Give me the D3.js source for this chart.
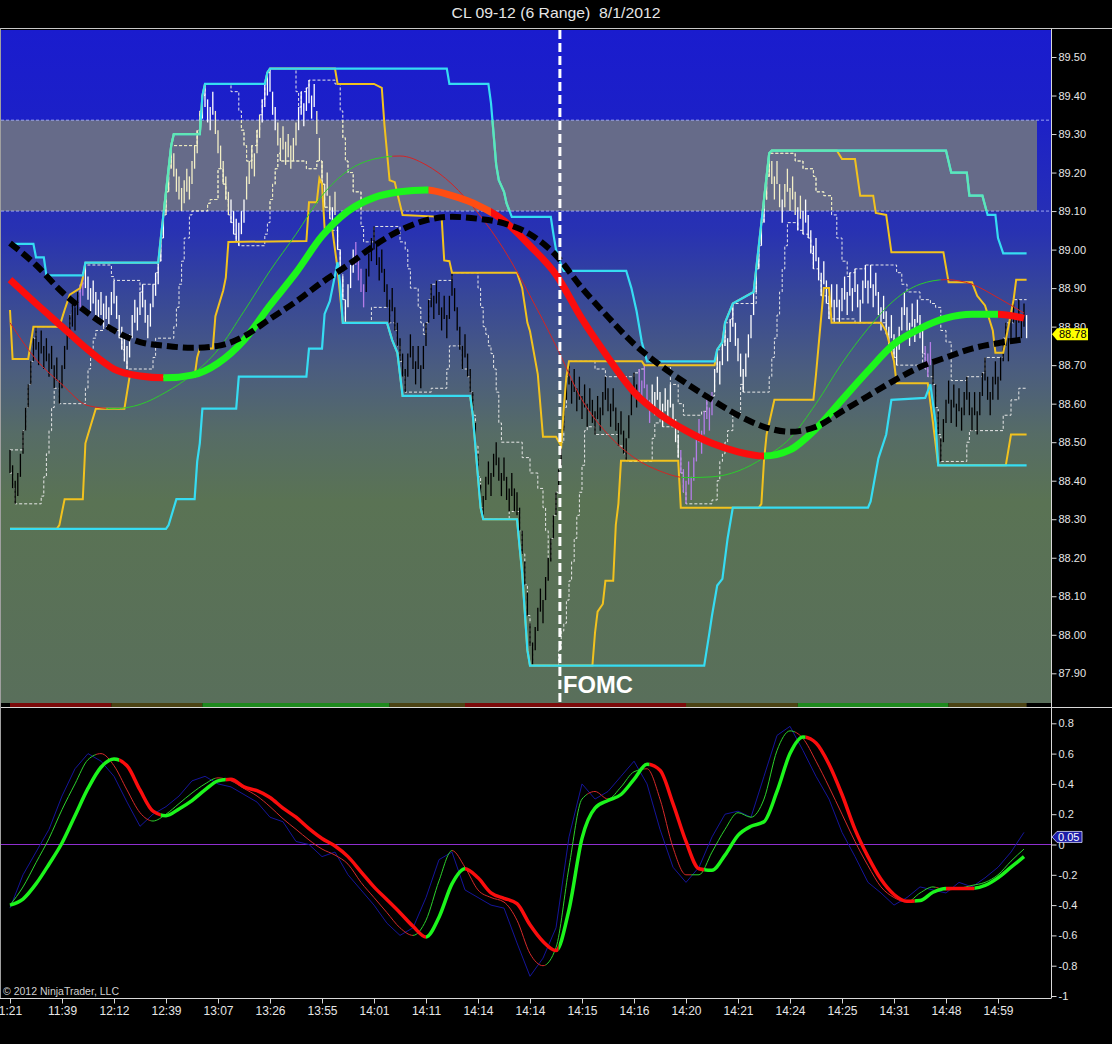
<!DOCTYPE html>
<html><head><meta charset="utf-8">
<script src="https://cdn.jsdelivr.net/npm/d3@7"></script>
<style>html,body{margin:0;padding:0;background:#000;overflow:hidden}</style>
</head><body>
<svg id="c" width="1112" height="1044"></svg>
<script>
// ---------------- DATA ----------------
const title = "CL 09-12 (6 Range)\u00a0 8/1/2012";
const timeLabels = ['1:21','11:39','12:12','12:39','13:07','13:26','13:55','14:01','14:11','14:14','14:14','14:15','14:16','14:20','14:21','14:24','14:25','14:31','14:48','14:59'];
const labelIdx = [0,20,40,60,80,100,120,140,160,180,200,220,240,260,280,300,320,340,360,380];
const priceTicks = [87.9,88.0,88.1,88.2,88.3,88.4,88.5,88.6,88.7,88.8,88.9,89.0,89.1,89.2,89.3,89.4,89.5];
const oscTicks = [-1,-0.8,-0.6,-0.4,-0.2,0,0.2,0.4,0.6,0.8];
const barRange = 0.06;           // 6-tick range bars
const lastPrice = 88.78;
const lastOsc = 0.05;
const bandLow = 89.10, bandHigh = 89.336;
const eventIdx = 211.5, eventLabel = 'FOMC';

// bar mid prices (one per range bar)
const barMid = [
88.45,88.41,88.37,88.39,88.44,88.50,88.56,88.62,88.68,88.74,
88.77,88.73,88.76,88.72,88.74,88.70,88.72,88.67,88.69,88.63,
88.67,88.72,88.77,88.80,88.83,88.82,88.86,88.88,88.91,88.93,
88.90,88.87,88.89,88.86,88.84,88.86,88.83,88.85,88.82,88.86,
88.89,88.85,88.80,88.77,88.74,88.72,88.75,88.80,88.84,88.82,
88.86,88.88,88.84,88.80,88.83,88.88,88.91,88.94,89.00,89.06,
89.12,89.18,89.24,89.22,89.18,89.16,89.13,89.15,89.18,89.16,
89.20,89.24,89.28,89.33,89.37,89.40,89.36,89.34,89.38,89.33,
89.28,89.24,89.20,89.16,89.12,89.10,89.07,89.05,89.04,89.07,
89.10,89.16,89.20,89.24,89.22,89.28,89.32,89.36,89.40,89.43,
89.44,89.38,89.34,89.30,89.26,89.29,89.25,89.27,89.24,89.26,
89.30,89.34,89.38,89.35,89.39,89.41,89.37,89.40,89.33,89.26,
89.20,89.14,89.17,89.11,89.08,89.12,89.03,88.97,88.90,88.84,
88.88,88.93,88.97,88.99,88.95,88.92,88.88,88.92,88.96,89.00,
89.03,88.99,88.95,88.97,88.92,88.88,88.84,88.87,88.82,88.78,
88.74,88.70,88.66,88.70,88.75,88.72,88.68,88.72,88.67,88.72,
88.78,88.84,88.88,88.85,88.89,88.86,88.82,88.85,88.80,88.85,
88.91,88.87,88.82,88.77,88.72,88.75,88.70,88.66,88.60,88.52,
88.44,88.36,88.33,88.38,88.42,88.39,88.44,88.47,88.43,88.39,
88.43,88.38,88.35,88.39,88.35,88.34,88.30,88.24,88.16,88.08,
88.00,87.95,87.99,88.04,88.09,88.06,88.12,88.17,88.22,88.28,
88.34,88.40,88.47,88.56,88.64,88.68,88.63,88.66,88.61,88.64,
88.59,88.62,88.57,88.61,88.58,88.55,88.59,88.56,88.60,88.64,
88.61,88.57,88.61,88.56,88.52,88.55,88.50,88.48,88.54,88.60,
88.65,88.62,88.66,88.63,88.67,88.62,88.58,88.62,88.60,88.64,
88.60,88.57,88.61,88.58,88.62,88.57,88.53,88.49,88.45,88.40,
88.37,88.42,88.38,88.43,88.48,88.53,88.50,88.55,88.59,88.56,
88.60,88.66,88.71,88.68,88.73,88.78,88.74,88.79,88.83,88.78,
88.74,88.70,88.66,88.70,88.75,88.80,88.86,88.92,88.98,89.04,
89.10,89.16,89.22,89.20,89.16,89.20,89.14,89.10,89.14,89.18,
89.13,89.16,89.12,89.08,89.11,89.07,89.10,89.06,89.02,88.98,
89.00,88.95,88.91,88.94,88.89,88.85,88.88,88.84,88.88,88.84,
88.87,88.90,88.86,88.91,88.87,88.92,88.88,88.84,88.89,88.93,
88.89,88.93,88.88,88.91,88.86,88.82,88.85,88.81,88.77,88.80,
88.75,88.73,88.77,88.82,88.86,88.82,88.78,88.83,88.79,88.84,
88.80,88.76,88.72,88.70,88.73,88.68,88.62,88.55,88.48,88.53,
88.58,88.63,88.58,88.62,88.57,88.61,88.56,88.60,88.64,88.60,
88.56,88.60,88.55,88.60,88.65,88.69,88.64,88.60,88.64,88.68,
88.64,88.69,88.74,88.78,88.74,88.79,88.84,88.80,88.84,88.80,
88.83,88.80];
// bar colour runs: [firstIdx, lastIdx, kind]  k=below trend, w=above, p=transition
const barColorRuns = [[0,26,'k'],[27,28,'p'],[29,132,'w'],[133,136,'p'],[137,241,'k'],[242,246,'p'],[247,257,'w'],[258,270,'p'],[271,351,'w'],[352,354,'p'],[355,390,'k'],[391,391,'w']];

// slow channel (cyan) [barIdx, price]
const cyanUpper = [[0,89.015],[9,89.015],[10,88.98],[13,88.98],[14,88.933],[28,88.933],[29,88.966],[57,88.966],[58,89.03],[59,89.09],[60,89.15],[61,89.21],[62,89.27],[63,89.30],[73,89.30],[74,89.40],[75,89.43],[98,89.43],[99,89.46],[100,89.47],[168,89.47],[169,89.43],[184,89.43],[185,89.38],[186,89.30],[187,89.22],[188,89.18],[190,89.15],[191,89.12],[193,89.085],[208,89.085],[209,89.04],[210,89.00],[212,88.96],[213,88.945],[237,88.945],[239,88.90],[241,88.84],[243,88.76],[245,88.71],[271,88.71],[272,88.74],[274,88.76],[275,88.81],[278,88.86],[286,88.89],[287,88.95],[288,89.01],[289,89.07],[290,89.13],[291,89.19],[292,89.25],[293,89.257],[360,89.257],[362,89.20],[368,89.20],[369,89.14],[374,89.14],[376,89.09],[379,89.09],[380,89.03],[382,88.99],[391,88.99]];
const cyanLower = [[0,88.275],[60,88.275],[61,88.285],[64,88.352],[71,88.352],[72,88.45],[73,88.497],[74,88.587],[87,88.587],[88,88.67],[114,88.67],[115,88.743],[120,88.743],[121,88.833],[123,88.866],[125,88.933],[126,88.967],[127,88.91],[128,88.81],[145,88.81],[147,88.765],[149,88.732],[151,88.62],[177,88.62],[178,88.57],[179,88.49],[180,88.41],[181,88.33],[182,88.30],[195,88.30],[196,88.229],[197,88.16],[198,88.06],[199,87.96],[200,87.92],[267,87.92],[269,88.005],[270,88.05],[272,88.128],[274,88.145],[276,88.25],[278,88.33],[330,88.33],[331,88.346],[334,88.458],[337,88.52],[339,88.61],[352,88.615],[354,88.65],[356,88.55],[357,88.44],[391,88.44]];
// medium channel (yellow)
const yellowUpper = [[0,88.843],[1,88.716],[7,88.716],[9,88.80],[19,88.80],[21,88.843],[23,88.883],[27,88.90],[28,88.927],[29,88.966],[57,88.966],[58,89.03],[59,89.09],[60,89.15],[61,89.21],[62,89.27],[63,89.30],[73,89.30],[74,89.40],[75,89.43],[98,89.43],[99,89.46],[100,89.47],[125,89.47],[126,89.43],[140,89.43],[143,89.42],[144,89.325],[146,89.18],[148,89.175],[149,89.145],[151,89.09],[166,89.085],[167,88.972],[169,88.97],[170,88.94],[195,88.94],[197,88.90],[199,88.81],[200,88.788],[203,88.676],[205,88.514],[210,88.514],[212,88.49],[213,88.59],[214,88.67],[215,88.71],[243,88.71],[244,88.70],[271,88.70],[272,88.74],[274,88.76],[275,88.81],[278,88.86],[286,88.89],[287,88.95],[288,89.01],[289,89.07],[290,89.13],[291,89.19],[292,89.25],[293,89.257],[318,89.257],[320,89.235],[325,89.235],[327,89.14],[332,89.14],[333,89.095],[337,89.09],[339,88.993],[359,88.993],[361,88.915],[370,88.915],[372,88.88],[375,88.855],[378,88.79],[379,88.732],[382,88.732],[384,88.80],[386,88.87],[387,88.922],[391,88.922]];
const yellowLower = [[0,88.275],[18,88.275],[19,88.285],[21,88.352],[28,88.352],[29,88.497],[30,88.52],[33,88.587],[44,88.587],[46,88.67],[71,88.67],[72,88.72],[73,88.743],[78,88.743],[79,88.827],[82,88.894],[83,88.927],[84,89.02],[114,89.022],[115,89.123],[118,89.123],[119,89.185],[120,89.17],[121,89.056],[124,89.05],[125,89.00],[126,88.95],[127,88.88],[128,88.81],[145,88.81],[147,88.765],[149,88.732],[151,88.62],[177,88.62],[178,88.57],[179,88.49],[180,88.41],[181,88.33],[182,88.30],[195,88.30],[196,88.229],[197,88.16],[198,88.06],[199,87.96],[200,87.92],[224,87.92],[225,88.005],[226,88.06],[228,88.08],[229,88.14],[232,88.14],[233,88.285],[234,88.34],[235,88.452],[257,88.452],[258,88.33],[288,88.33],[289,88.34],[290,88.452],[291,88.52],[294,88.61],[309,88.61],[310,88.676],[313,88.90],[315,88.90],[316,88.81],[335,88.81],[337,88.788],[340,88.71],[341,88.653],[353,88.653],[355,88.55],[357,88.44],[383,88.44],[385,88.52],[391,88.52]];
// fast channel (white dashed), step values
const fastUpper = [[0,88.48],[5,88.53],[6,88.59],[7,88.65],[8,88.71],[9,88.77],[10,88.80],[20,88.79],[22,88.80],[23,88.83],[24,88.86],[26,88.89],[27,88.91],[28,88.94],[29,88.96],[39,88.93],[40,88.92],[50,88.89],[51,88.91],[56,88.94],[57,88.97],[58,89.03],[59,89.09],[60,89.15],[61,89.21],[62,89.27],[72,89.31],[73,89.36],[74,89.40],[75,89.43],[85,89.41],[88,89.36],[89,89.31],[90,89.27],[91,89.23],[93,89.27],[95,89.31],[96,89.35],[97,89.39],[98,89.43],[99,89.46],[100,89.47],[110,89.41],[111,89.37],[112,89.41],[114,89.42],[115,89.44],[125,89.43],[127,89.36],[128,89.29],[129,89.23],[130,89.20],[132,89.15],[135,89.06],[136,89.02],[140,89.06],[150,89.02],[152,89.00],[153,88.95],[154,88.90],[157,88.85],[158,88.81],[159,88.78],[160,88.81],[161,88.87],[162,88.91],[164,88.92],[170,88.94],[180,88.90],[181,88.85],[182,88.80],[183,88.78],[184,88.75],[185,88.73],[186,88.69],[187,88.63],[188,88.55],[189,88.50],[197,88.46],[200,88.42],[203,88.38],[205,88.33],[206,88.27],[207,88.20],[208,88.25],[209,88.31],[210,88.37],[211,88.43],[212,88.50],[213,88.59],[214,88.67],[215,88.71],[225,88.69],[229,88.67],[240,88.68],[242,88.69],[244,88.70],[254,88.65],[257,88.60],[259,88.57],[266,88.58],[268,88.62],[271,88.69],[272,88.74],[274,88.76],[275,88.81],[277,88.82],[278,88.86],[287,88.95],[288,89.01],[289,89.07],[290,89.13],[291,89.19],[292,89.25],[302,89.23],[305,89.21],[309,89.19],[310,89.15],[313,89.14],[316,89.09],[318,89.03],[320,88.97],[322,88.93],[323,88.94],[325,88.95],[329,88.96],[339,88.96],[341,88.94],[343,88.91],[345,88.89],[350,88.87],[354,88.86],[356,88.85],[358,88.79],[360,88.76],[362,88.66],[368,88.67],[374,88.68],[375,88.72],[382,88.77],[383,88.81],[386,88.87],[391,88.87]];
const fastLower = [[0,88.42],[1,88.38],[2,88.34],[12,88.36],[13,88.41],[14,88.47],[15,88.53],[16,88.59],[17,88.64],[19,88.60],[29,88.64],[30,88.69],[31,88.74],[32,88.77],[33,88.79],[36,88.80],[38,88.79],[42,88.77],[43,88.74],[44,88.71],[45,88.69],[55,88.72],[56,88.77],[63,88.80],[64,88.85],[65,88.91],[66,88.97],[67,89.03],[69,89.09],[70,89.10],[76,89.12],[77,89.13],[80,89.21],[82,89.17],[83,89.13],[84,89.09],[85,89.07],[86,89.04],[87,89.02],[88,89.01],[98,89.04],[99,89.07],[100,89.13],[101,89.17],[102,89.21],[103,89.25],[104,89.23],[114,89.21],[118,89.23],[120,89.17],[121,89.11],[123,89.08],[124,89.05],[126,89.00],[127,88.94],[128,88.87],[129,88.81],[139,88.85],[146,88.81],[148,88.79],[149,88.75],[150,88.71],[151,88.67],[152,88.63],[162,88.64],[168,88.69],[169,88.75],[174,88.69],[176,88.67],[177,88.63],[178,88.57],[179,88.49],[180,88.41],[181,88.33],[182,88.30],[192,88.32],[196,88.27],[197,88.21],[198,88.13],[199,88.05],[200,87.97],[201,87.92],[211,87.96],[212,88.01],[213,88.03],[214,88.09],[215,88.14],[216,88.19],[217,88.25],[218,88.31],[219,88.37],[220,88.44],[221,88.53],[222,88.54],[225,88.52],[234,88.49],[236,88.47],[237,88.45],[247,88.51],[248,88.55],[250,88.57],[251,88.54],[257,88.46],[258,88.42],[259,88.37],[260,88.34],[270,88.35],[272,88.40],[273,88.45],[274,88.47],[275,88.50],[276,88.53],[278,88.57],[281,88.65],[282,88.63],[292,88.67],[293,88.72],[294,88.77],[295,88.83],[296,88.89],[297,88.95],[298,89.01],[299,89.07],[303,89.05],[305,89.04],[307,89.03],[308,88.99],[309,88.95],[311,88.92],[312,88.88],[314,88.86],[315,88.82],[325,88.81],[337,88.78],[338,88.74],[340,88.72],[341,88.70],[351,88.73],[352,88.69],[353,88.67],[355,88.65],[356,88.59],[357,88.52],[358,88.45],[368,88.50],[369,88.53],[382,88.57],[385,88.61],[388,88.64],[391,88.64]];

// smooth averages sampled every 10 bars
const curveIdx = [0,10,20,30,40,50,60,70,80,90,100,110,120,130,140,150,160,170,180,190,200,210,220,230,240,250,260,270,280,290,300,310,320,330,340,350,360,370,380,390];
const trendMA = [88.922,88.86,88.80,88.74,88.69,88.672,88.667,88.674,88.705,88.765,88.855,88.94,89.035,89.10,89.135,89.15,89.155,89.14,89.115,89.075,89.01,88.935,88.82,88.72,88.63,88.572,88.53,88.497,88.475,88.464,88.48,88.535,88.61,88.685,88.755,88.795,88.822,88.832,88.832,88.822];
const trendRuns = [[-3,59,'dn'],[59,161,'up'],[161,185,'tr'],[185,290,'dn'],[290,380,'up'],[380,394,'dn']];
const slowMA = [89.017,88.96,88.89,88.835,88.79,88.76,88.75,88.745,88.75,88.775,88.82,88.865,88.915,88.96,89.01,89.05,89.076,89.085,89.08,89.068,89.04,88.985,88.90,88.825,88.755,88.70,88.653,88.61,88.57,88.54,88.527,88.54,88.58,88.62,88.66,88.695,88.72,88.743,88.757,88.767];
const fastMA = [88.81,88.715,88.65,88.595,88.587,88.598,88.63,88.675,88.74,88.84,88.945,89.04,89.14,89.205,89.235,89.243,89.22,89.17,89.095,89.00,88.88,88.75,88.61,88.52,88.46,88.425,88.408,88.41,88.425,88.46,88.51,88.60,88.705,88.795,88.868,88.91,88.922,88.91,88.875,88.835];
const fastRuns = [[-3,37,'dn'],[37,147,'up'],[147,258,'dn'],[258,358,'up'],[358,394,'dn']];

// trend strip under price panel
const stripRuns = [[0,39,'dn'],[39,74,'fl'],[74,146,'up'],[146,175,'fl'],[175,260,'dn'],[260,303,'fl'],[303,361,'up'],[361,391,'fl']];

// oscillator, sampled every 5 bars
const oscIdx = [0,5,10,15,20,25,30,35,40,45,50,55,60,65,70,75,80,85,90,95,100,105,110,115,120,125,130,135,140,145,150,155,160,165,170,175,180,185,190,195,200,205,210,215,220,225,230,235,240,245,250,255,260,265,270,275,280,285,290,295,300,305,310,315,320,325,330,335,340,345,350,355,360,365,370,375,380,385,390];
const oscSlow = [-0.40,-0.36,-0.26,-0.13,0.01,0.19,0.37,0.51,0.565,0.52,0.36,0.22,0.19,0.235,0.29,0.36,0.42,0.43,0.38,0.355,0.31,0.24,0.18,0.105,0.04,-0.01,-0.08,-0.18,-0.28,-0.365,-0.45,-0.54,-0.61,-0.48,-0.26,-0.16,-0.22,-0.32,-0.355,-0.39,-0.53,-0.64,-0.70,-0.43,0.04,0.24,0.29,0.33,0.43,0.53,0.49,0.27,0.02,-0.16,-0.17,-0.07,0.06,0.12,0.15,0.35,0.60,0.71,0.67,0.53,0.33,0.10,-0.08,-0.23,-0.33,-0.375,-0.37,-0.315,-0.29,-0.29,-0.29,-0.27,-0.22,-0.15,-0.08];
const oscSlowRuns = [[-3,42,'up'],[42,58,'dn'],[58,83,'up'],[83,160,'dn'],[160,175,'up'],[175,211,'dn'],[211,246,'up'],[246,267,'dn'],[267,306,'up'],[306,348,'dn'],[348,360,'up'],[360,371,'dn'],[371,394,'up']];
const oscFast = [-0.40,-0.28,-0.12,0.04,0.23,0.40,0.56,0.60,0.52,0.36,0.21,0.155,0.20,0.27,0.34,0.40,0.44,0.42,0.37,0.32,0.25,0.17,0.10,0.03,-0.03,-0.07,-0.13,-0.25,-0.35,-0.45,-0.55,-0.60,-0.50,-0.24,-0.04,-0.15,-0.30,-0.35,-0.38,-0.50,-0.72,-0.80,-0.68,-0.15,0.30,0.35,0.30,0.38,0.48,0.50,0.30,-0.02,-0.20,-0.20,-0.05,0.10,0.21,0.18,0.30,0.62,0.75,0.70,0.55,0.38,0.20,0.02,-0.14,-0.28,-0.35,-0.38,-0.32,-0.28,-0.30,-0.29,-0.27,-0.25,-0.20,-0.11,-0.03];
const oscFastRuns = [[-3,33,'up'],[33,54,'dn'],[54,79,'up'],[79,155,'dn'],[155,170,'up'],[170,206,'dn'],[206,222,'up'],[222,230,'dn'],[230,244,'up'],[244,262,'dn'],[262,302,'up'],[302,345,'dn'],[345,356,'up'],[356,362,'dn'],[362,394,'up']];
const oscRaw = [-0.42,-0.20,-0.05,0.10,0.32,0.50,0.60,0.55,0.45,0.28,0.12,0.20,0.25,0.32,0.42,0.45,0.40,0.38,0.33,0.28,0.18,0.15,0.02,0.00,-0.08,-0.05,-0.20,-0.30,-0.40,-0.52,-0.60,-0.55,-0.35,-0.10,-0.05,-0.30,-0.35,-0.40,-0.42,-0.65,-0.87,-0.75,-0.55,0.05,0.40,0.30,0.35,0.45,0.55,0.40,0.10,-0.15,-0.25,-0.15,0.05,0.20,0.22,0.18,0.45,0.72,0.78,0.62,0.45,0.30,0.08,-0.08,-0.25,-0.32,-0.40,-0.35,-0.28,-0.30,-0.32,-0.25,-0.28,-0.22,-0.15,-0.05,0.08];

// ---------------- LAYOUT ----------------
const svg = d3.select('#c');
const plotL = 1, plotR = 1051, mainT = 30, mainB = 703, oscT = 708, oscB = 997, axisY = 998;
const x = d3.scaleLinear().domain([0,380]).range([10,998]);
const y = d3.scaleLinear().domain([87.9,89.5]).range([673.3,57]);
const yo = d3.scaleLinear().domain([-1,0.8]).range([996,723.3]);
const FONT = "'Liberation Sans', Arial, sans-serif";

svg.append('rect').attr('width',1112).attr('height',1044).attr('fill','#000');
const defs = svg.append('defs');
const grad = defs.append('linearGradient').attr('id','bg').attr('x1',0).attr('y1',0).attr('x2',0).attr('y2',1);
[[0,'#1a1cce'],[0.13,'#1c20c8'],[0.30,'#2832b2'],[0.40,'#384897'],[0.50,'#4a5c80'],[0.60,'#566c66'],[0.70,'#5a7354'],[1,'#596f5b']]
  .forEach(s=>grad.append('stop').attr('offset',s[0]).attr('stop-color',s[1]));
defs.append('clipPath').attr('id','mainClip').append('rect').attr('x',plotL).attr('y',mainT).attr('width',plotR-plotL).attr('height',mainB-mainT);
defs.append('clipPath').attr('id','oscClip').append('rect').attr('x',plotL).attr('y',oscT).attr('width',plotR-plotL).attr('height',oscB-oscT);
const bandTop = y(bandHigh), bandBot = y(bandLow), bandRight = x(395);
defs.append('clipPath').attr('id','bandClip').append('rect').attr('x',plotL).attr('y',bandTop).attr('width',bandRight-plotL).attr('height',bandBot-bandTop);

let cid = 0;
function runClip(i0,i1,top,bot){
  const id = 'rc'+(cid++);
  defs.append('clipPath').attr('id',id).append('rect').attr('x',x(i0)).attr('y',top).attr('width',Math.max(0,x(i1)-x(i0))).attr('height',bot-top);
  return 'url(#'+id+')';
}
function drawRuns(parent, pts, runs, colors, sy, width, curve, top, bot){
  const gen = d3.line().x(d=>x(d[0])).y(d=>sy(d[1])).curve(curve);
  const d = gen(pts);
  runs.forEach(r=>{
    parent.append('g').attr('clip-path',runClip(r[0],r[1],top,bot))
      .append('path').attr('d',d).attr('fill','none').attr('stroke',colors[r[2]]).attr('stroke-width',width);
  });
}

// title
svg.append('text').attr('x',556).attr('y',18).attr('text-anchor','middle').attr('fill','#e6e6e6')
  .attr('font-family',FONT).attr('font-size',15).attr('textLength',209).attr('lengthAdjust','spacingAndGlyphs').text(title);
svg.append('line').attr('x1',0).attr('x2',1112).attr('y1',28.5).attr('y2',28.5).attr('stroke','#c8c8c8');

// ---------------- MAIN PANEL ----------------
const main = svg.append('g').attr('clip-path','url(#mainClip)');
main.append('rect').attr('x',plotL).attr('y',mainT).attr('width',plotR-plotL).attr('height',mainB-mainT).attr('fill','url(#bg)');
main.append('rect').attr('x',plotL).attr('y',bandTop).attr('width',bandRight-plotL).attr('height',bandBot-bandTop).attr('fill','#666b89');
[bandHigh,bandLow].forEach(v=>main.append('line').attr('x1',plotL).attr('x2',plotR).attr('y1',y(v)).attr('y2',y(v))
  .attr('stroke','#b8c0ff').attr('stroke-width',0.8).attr('stroke-dasharray','3,2'));

const stepLine = d3.line().x(d=>x(d[0])).y(d=>y(d[1])).curve(d3.curveStepAfter);
const polyLine = d3.line().x(d=>x(d[0])).y(d=>y(d[1]));
// fast channel white dashed
[fastUpper,fastLower].forEach(arr=>{
  main.append('path').attr('d',stepLine(arr)).attr('fill','none').attr('stroke','#e8e8e8').attr('stroke-width',1).attr('stroke-dasharray','3,2');
  main.append('g').attr('clip-path','url(#bandClip)').append('path').attr('d',stepLine(arr)).attr('fill','none').attr('stroke','#ecebb8').attr('stroke-width',1).attr('stroke-dasharray','3,2');
});

// bars
const barKind = i => { const r = barColorRuns.find(r=>i>=r[0]&&i<=r[1]); return r?r[2]:'k'; };
const barCol = {k:'#000000', w:'#ffffff', p:'#b47de8'};
main.append('g').selectAll('line').data(barMid).join('line')
  .attr('x1',(d,i)=>x(i)).attr('x2',(d,i)=>x(i))
  .attr('y1',d=>y(d+barRange/2)).attr('y2',d=>y(d-barRange/2))
  .attr('stroke',(d,i)=>{const k=barKind(i); if(k==='w' && d>bandLow && d<bandHigh) return '#f3efc6'; return barCol[k];})
  .attr('stroke-width',1.3);

// medium channel yellow
[yellowUpper,yellowLower].forEach(arr=>main.append('path').attr('d',polyLine(arr)).attr('fill','none').attr('stroke','#f2c21e').attr('stroke-width',2));
// slow channel cyan
[cyanUpper,cyanLower].forEach(arr=>{
  main.append('path').attr('d',polyLine(arr)).attr('fill','none').attr('stroke','#36dcf2').attr('stroke-width',2.2);
  main.append('g').attr('clip-path','url(#bandClip)').append('path').attr('d',polyLine(arr)).attr('fill','none').attr('stroke','#5fe6b6').attr('stroke-width',2.2);
});

// thin fast average
drawRuns(main, curveIdx.map((k,j)=>[k,fastMA[j]]), fastRuns, {up:'#2ccc2c',dn:'#d42424'}, y, 1, d3.curveMonotoneX, mainT, mainB);
// thick trend average
drawRuns(main, curveIdx.map((k,j)=>[k,trendMA[j]]), trendRuns, {up:'#1cf51c',dn:'#fb0d0d',tr:'#ff4d12'}, y, 7, d3.curveMonotoneX, mainT, mainB);
// black dashed slow average
main.append('path').attr('d',d3.line().x(d=>x(d[0])).y(d=>y(d[1])).curve(d3.curveMonotoneX)(curveIdx.map((k,j)=>[k,slowMA[j]])))
  .attr('fill','none').attr('stroke','#000').attr('stroke-width',6).attr('stroke-dasharray','11,5');

// event line
main.append('line').attr('x1',x(eventIdx)).attr('x2',x(eventIdx)).attr('y1',mainT).attr('y2',mainB)
  .attr('stroke','#fff').attr('stroke-width',3).attr('stroke-dasharray','9,4');
main.append('text').attr('x',x(eventIdx)+3).attr('y',693).attr('fill','#fff').attr('font-family',FONT)
  .attr('font-weight','bold').attr('font-size',24).attr('textLength',70).attr('lengthAdjust','spacingAndGlyphs').text(eventLabel);

// trend strip
svg.append('rect').attr('x',plotL).attr('y',mainB).attr('width',plotR-plotL).attr('height',4).attr('fill','#000');
const stripCol = {dn:'#7c0b0b', fl:'#4c4314', up:'#1f8a1f'};
svg.append('g').selectAll('rect').data(stripRuns).join('rect')
  .attr('x',d=>x(d[0])).attr('width',d=>x(d[1])-x(d[0])).attr('y',mainB).attr('height',4).attr('fill',d=>stripCol[d[2]]);

// ---------------- OSC PANEL ----------------
svg.append('line').attr('x1',0).attr('x2',1112).attr('y1',707.5).attr('y2',707.5).attr('stroke','#d8d8d8');
const osc = svg.append('g').attr('clip-path','url(#oscClip)');
osc.append('line').attr('x1',plotL).attr('x2',plotR).attr('y1',yo(0)).attr('y2',yo(0)).attr('stroke','#8f2fd0').attr('stroke-width',1);
osc.append('path').attr('d',d3.line().x(d=>x(d[0])).y(d=>yo(d[1]))(oscIdx.map((k,j)=>[k,oscRaw[j]])))
  .attr('fill','none').attr('stroke','#15159a').attr('stroke-width',1);
drawRuns(osc, oscIdx.map((k,j)=>[k,oscFast[j]]), oscFastRuns, {up:'#2cd02c',dn:'#d42a2a'}, yo, 1, d3.curveMonotoneX, oscT, oscB);
drawRuns(osc, oscIdx.map((k,j)=>[k,oscSlow[j]]), oscSlowRuns, {up:'#1cf51c',dn:'#fb0d0d'}, yo, 3.5, d3.curveMonotoneX, oscT, oscB);
svg.append('text').attr('x',3).attr('y',995).attr('fill','#d0d0d0').attr('font-family',FONT).attr('font-size',10)
  .attr('textLength',116).attr('lengthAdjust','spacingAndGlyphs').text('\u00a9 2012 NinjaTrader, LLC');

// ---------------- AXES ----------------
svg.append('line').attr('x1',0.5).attr('x2',0.5).attr('y1',28.5).attr('y2',axisY).attr('stroke','#a0a0a0');
svg.append('line').attr('x1',plotR+0.5).attr('x2',plotR+0.5).attr('y1',28.5).attr('y2',axisY).attr('stroke','#d8d8d8');
svg.append('line').attr('x1',0).attr('x2',plotR+0.5).attr('y1',axisY+0.5).attr('y2',axisY+0.5).attr('stroke','#d8d8d8');

function styleAxis(g){
  g.select('.domain').remove();
  g.selectAll('.tick line').attr('stroke','#d8d8d8');
  g.selectAll('.tick text').attr('fill','#e6e6e6').attr('font-family',FONT).attr('font-size',11);
}
svg.append('g').attr('transform',`translate(${plotR+0.5},0)`)
  .call(d3.axisRight(y).tickValues(priceTicks).tickFormat(d3.format('.2f')).tickSize(5).tickPadding(2)).call(styleAxis);
svg.append('g').attr('transform',`translate(${plotR+0.5},0)`)
  .call(d3.axisRight(yo).tickValues(oscTicks).tickFormat(d=>d===0?'0':(Math.abs(d)===1?String(d):d.toFixed(1))).tickSize(5).tickPadding(2)).call(styleAxis);
svg.append('g').attr('transform',`translate(0,${axisY+0.5})`)
  .call(d3.axisBottom(x).tickValues(labelIdx).tickFormat((d,i)=>timeLabels[i]).tickSize(5).tickPadding(3)).call(styleAxis)
  .selectAll('.tick text').attr('font-size',12);

// last-value markers
const py = y(lastPrice);
svg.append('path').attr('d',`M${plotR+1},${py} L${plotR+6},${py-6} L${plotR+37},${py-6} L${plotR+37},${py+6} L${plotR+6},${py+6} Z`).attr('fill','#ffff00');
svg.append('text').attr('x',plotR+8).attr('y',py+4).attr('fill','#000').attr('font-family',FONT).attr('font-size',11).text(lastPrice.toFixed(2));
const oy = yo(lastOsc);
svg.append('path').attr('d',`M${plotR+1},${oy} L${plotR+6},${oy-5.5} L${plotR+31},${oy-5.5} L${plotR+31},${oy+5.5} L${plotR+6},${oy+5.5} Z`).attr('fill','#1c1ca6').attr('stroke','#e0e0ff').attr('stroke-width',0.8);
svg.append('text').attr('x',plotR+7).attr('y',oy+4).attr('fill','#fff').attr('font-family',FONT).attr('font-size',11).text(lastOsc.toFixed(2));
</script>
</body></html>
